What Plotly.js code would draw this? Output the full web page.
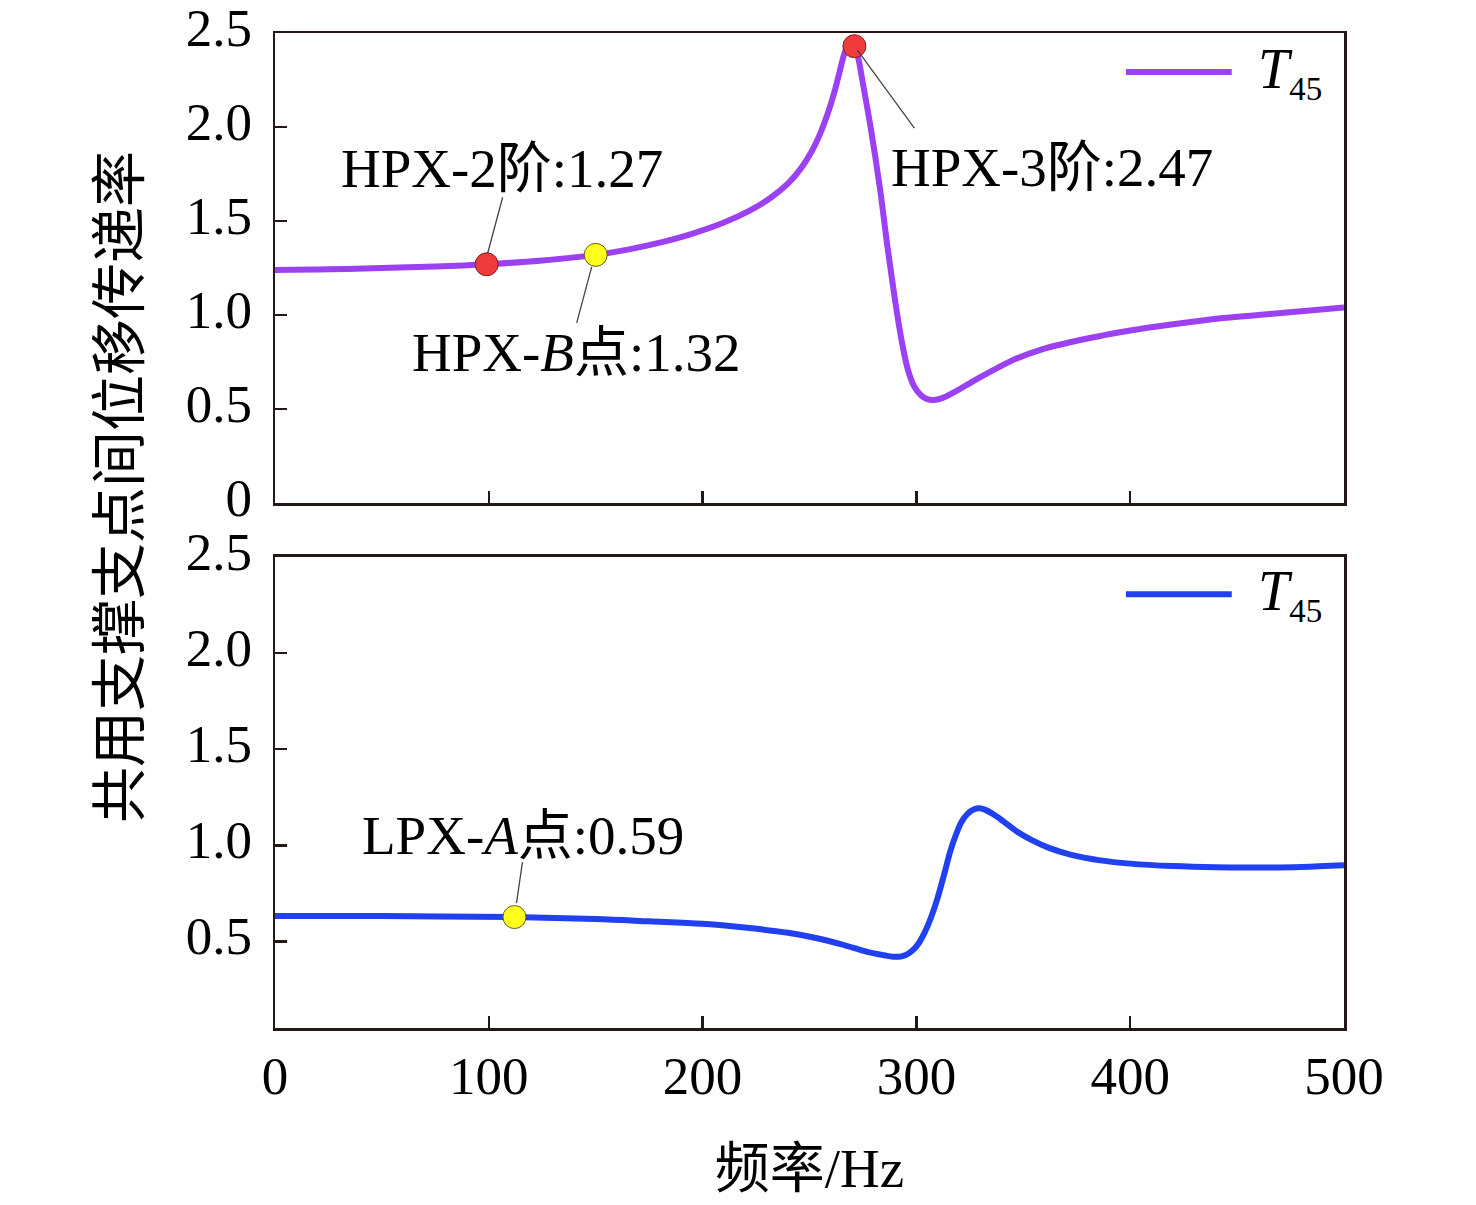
<!DOCTYPE html>
<html>
<head>
<meta charset="utf-8">
<script src="https://cdn.plot.ly/plotly-3.0.1.min.js"></script>
<style>html,body{margin:0;padding:0;background:#fff}#chart{width:1476px;height:1205px}</style>
</head>
<body>
<div id="chart"></div>
<script>
// ---- data ----
const hpxFreq = [0, 25, 50, 75, 99, 125, 150, 165, 180, 195, 210, 222, 232, 240, 246, 251, 255, 258.5, 261.5, 264, 266.3, 268.3, 270.5, 272.5, 275, 279, 283, 286.5, 290, 293, 296, 299, 302, 305, 308, 312, 319, 326, 334, 345, 358, 370, 380, 390, 400, 415, 430, 445, 460, 480, 500];
const hpxT45 = [1.24, 1.243, 1.25, 1.258, 1.27, 1.29, 1.32, 1.348, 1.385, 1.432, 1.492, 1.555, 1.625, 1.70, 1.78, 1.87, 1.965, 2.07, 2.18, 2.29, 2.39, 2.44, 2.435, 2.38, 2.23, 1.97, 1.67, 1.36, 1.08, 0.87, 0.71, 0.62, 0.575, 0.553, 0.548, 0.558, 0.598, 0.645, 0.695, 0.76, 0.815, 0.85, 0.875, 0.898, 0.918, 0.943, 0.965, 0.985, 1.0, 1.02, 1.04];
const lpxFreq = [0, 50, 112, 150, 175, 200, 222, 240, 253, 265, 277, 285, 289, 292, 295, 298, 301, 304, 307, 310, 313, 316, 318.5, 321, 324, 327, 329.5, 332, 336, 341, 347, 354, 362, 372, 386, 400, 420, 440, 460, 480, 500];
const lpxT45 = [0.633, 0.632, 0.627, 0.617, 0.605, 0.592, 0.57, 0.545, 0.518, 0.485, 0.446, 0.428, 0.421, 0.421, 0.43, 0.452, 0.49, 0.55, 0.63, 0.73, 0.85, 0.975, 1.055, 1.12, 1.165, 1.188, 1.193, 1.186, 1.162, 1.122, 1.072, 1.027, 0.987, 0.952, 0.922, 0.905, 0.892, 0.886, 0.885, 0.888, 0.897];
const redPtsX = [99, 271];
const redPtsY = [1.27, 2.43];
const yellowTopX = [150];
const yellowTopY = [1.32];
const yellowBotX = [112];
const yellowBotY = [0.627];
const xTickVals = [0, 100, 200, 300, 400, 500];
const xTickText = ['0', '100', '200', '300', '400', '500'];
const yTopTickVals = [0, 0.5, 1, 1.5, 2, 2.5];
const yTopTickText = ['0', '0.5', '1.0', '1.5', '2.0', '2.5'];
const yBotTickVals = [0.5, 1, 1.5, 2, 2.5];
const yBotTickText = ['0.5', '1.0', '1.5', '2.0', '2.5'];
const labels = ['HPX-2阶:1.27', 'HPX-<i>B</i>点:1.32', 'HPX-3阶:2.47', 'LPX-<i>A</i>点:0.59'];
const legendText = '<i>T</i><sub><span style="font-size:33px">45</span></sub>';
const yTitle = '共用支撑支点间位移传递率';
const xTitle = '频率/Hz';

// ---- styles ----
const FONT = 'Liberation Serif, "Times New Roman", "Noto Sans CJK SC", serif';
const PURPLE = '#9b41f2';
const BLUE = '#2140ef';
const AX = '#231815';
const TICKFS = 53;
const LABFS = 55;

const traces = [
  {x: hpxFreq, y: hpxT45, xaxis: 'x', yaxis: 'y', mode: 'lines', name: 'T45',
   line: {color: PURPLE, width: 6, shape: 'spline', smoothing: 1}, showlegend: false},
  {x: lpxFreq, y: lpxT45, xaxis: 'x2', yaxis: 'y2', mode: 'lines', name: 'T45',
   line: {color: BLUE, width: 6, shape: 'spline', smoothing: 1}, showlegend: false},
  {x: redPtsX, y: redPtsY, xaxis: 'x', yaxis: 'y', mode: 'markers', showlegend: false,
   marker: {color: '#ef3b3b', size: 23, line: {color: '#7a2020', width: 1}}},
  {x: yellowTopX, y: yellowTopY, xaxis: 'x', yaxis: 'y', mode: 'markers', showlegend: false,
   marker: {color: '#ffff1e', size: 23, line: {color: '#6b5a20', width: 1}}},
  {x: yellowBotX, y: yellowBotY, xaxis: 'x2', yaxis: 'y2', mode: 'markers', showlegend: false,
   marker: {color: '#ffff1e', size: 23, line: {color: '#6b5a20', width: 1}}}
];

function xax(extra) {
  return Object.assign({
    range: [0, 500], tickmode: 'array', tickvals: xTickVals, ticktext: xTickText,
    ticks: 'inside', ticklen: 12, tickwidth: 2.5, tickcolor: AX,
    showline: true, linewidth: 2.5, linecolor: AX, mirror: true,
    showgrid: false, zeroline: false, tickfont: {family: FONT, size: TICKFS, color: '#000'}
  }, extra);
}
function yax(extra) {
  return Object.assign({
    tickmode: 'array', ticks: 'inside', ticklen: 12, tickwidth: 2.5, tickcolor: AX,
    showline: true, linewidth: 2.5, linecolor: AX, mirror: true,
    showgrid: false, zeroline: false, ticklabelstandoff: 10, ticklabelshift: -6,
    ticklabeloverflow: 'allow',
    tickfont: {family: FONT, size: TICKFS, color: '#000'}
  }, extra);
}

const lead = {color: '#444', width: 1.3};
function leader(xr, yr, ax, ay, x0, x1, y0, y1) {
  return {type: 'line', xref: xr, yref: yr, xsizemode: 'pixel', ysizemode: 'pixel',
          xanchor: ax, yanchor: ay, x0: x0, x1: x1, y0: y0, y1: y1, line: lead};
}
function lab(xr, yr, x, y, text, xs, ys) {
  return {xref: xr, yref: yr, x: x, y: y, text: text, showarrow: false, xshift: xs, yshift: ys,
          xanchor: 'center', yanchor: 'middle', font: {family: FONT, size: LABFS, color: '#000'}};
}

const layout = {
  width: 1476, height: 1205,
  margin: {l: 275, r: 132, t: 33, b: 177},
  paper_bgcolor: '#fff', plot_bgcolor: '#fff',
  showlegend: false,
  font: {family: FONT, color: '#000'},
  xaxis: xax({domain: [0, 1], anchor: 'y', showticklabels: false}),
  yaxis: yax({domain: [0.5276, 1], anchor: 'x', range: [0, 2.5], tickvals: yTopTickVals, ticktext: yTopTickText}),
  xaxis2: xax({domain: [0, 1], anchor: 'y2', showticklabels: true, ticklabelstandoff: 0,
               title: {text: xTitle, font: {family: FONT, size: 55, color: '#000'}, standoff: 45}}),
  yaxis2: yax({domain: [0, 0.4734], anchor: 'x2', range: [0.05, 2.5], tickvals: yBotTickVals, ticktext: yBotTickText}),
  shapes: [
    {type: 'line', xref: 'x domain', yref: 'y domain', x0: 0.796, x1: 0.895, y0: 0.917, y1: 0.917, line: {color: PURPLE, width: 6}},
    {type: 'line', xref: 'x2 domain', yref: 'y2 domain', x0: 0.796, x1: 0.895, y0: 0.921, y1: 0.921, line: {color: BLUE, width: 6}},
    leader('x', 'y', redPtsX[0], redPtsY[0], 1, 16, 11, 67),
    leader('x', 'y', yellowTopX[0], yellowTopY[0], -4, -19, -12, -68),
    leader('x', 'y', redPtsX[1], redPtsY[1], 3, 60, -4, -82),
    leader('x2', 'y2', yellowBotX[0], yellowBotY[0], 2, 8, 14, 55)
  ],
  annotations: [
    lab('x', 'y', redPtsX[0], redPtsY[0], labels[0], 15, 96),
    lab('x', 'y', yellowTopX[0], yellowTopY[0], labels[1], -20, -98),
    lab('x', 'y', redPtsX[1], redPtsY[1], labels[2], 198, -121),
    lab('x2', 'y2', yellowBotX[0], yellowBotY[0], labels[3], 9, 82),
    {xref: 'x domain', yref: 'y domain', x: 0.918, y: 0.917, xanchor: 'left', yanchor: 'middle', showarrow: false,
     text: legendText, font: {family: FONT, size: 56, color: '#000'}},
    {xref: 'x2 domain', yref: 'y2 domain', x: 0.918, y: 0.921, xanchor: 'left', yanchor: 'middle', showarrow: false,
     text: legendText, font: {family: FONT, size: 56, color: '#000'}},
    {xref: 'paper', yref: 'paper', x: -0.145, y: 0.5437, xanchor: 'center', yanchor: 'middle', showarrow: false,
     textangle: -90, text: yTitle, font: {family: FONT, size: 56, color: '#000'}}
  ]
};

Plotly.newPlot('chart', traces, layout, {staticPlot: true, displayModeBar: false});
</script>
</body>
</html>
